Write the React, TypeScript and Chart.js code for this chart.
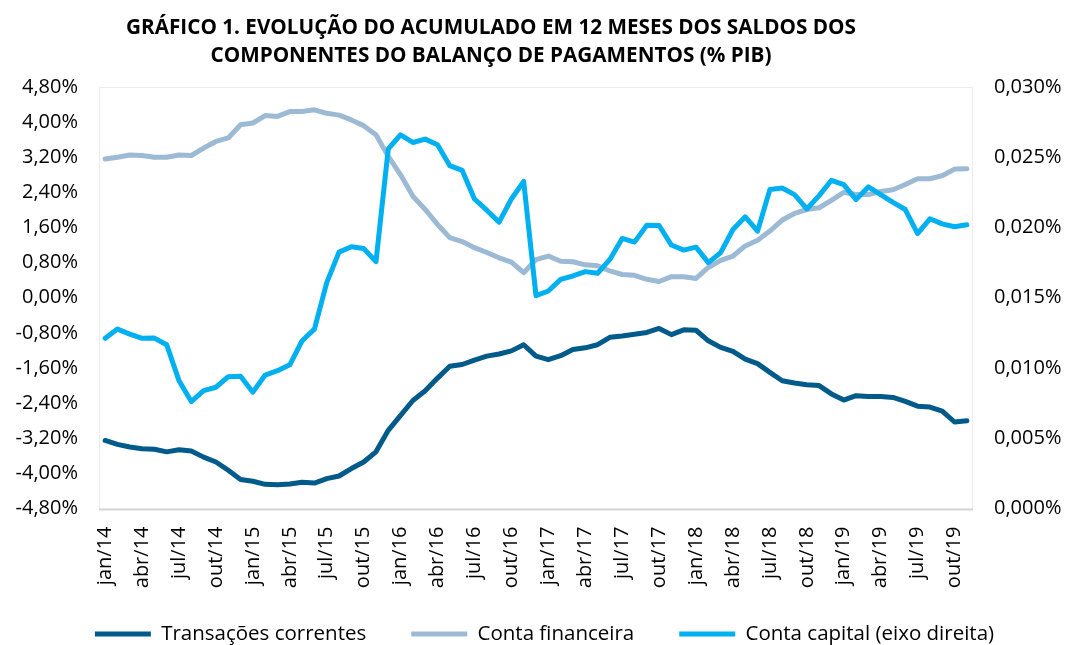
import React, { useEffect, useRef } from "react";
import { Chart, registerables } from "chart.js";

Chart.register(...registerables);

const titleLines = [
  "GRÁFICO 1. EVOLUÇÃO DO ACUMULADO EM 12 MESES DOS SALDOS DOS",
  "COMPONENTES DO BALANÇO DE PAGAMENTOS (% PIB)",
];

const months = [
  "jan/14", "fev/14", "mar/14", "abr/14", "mai/14", "jun/14", "jul/14", "ago/14", "set/14", "out/14", "nov/14", "dez/14",
  "jan/15", "fev/15", "mar/15", "abr/15", "mai/15", "jun/15", "jul/15", "ago/15", "set/15", "out/15", "nov/15", "dez/15",
  "jan/16", "fev/16", "mar/16", "abr/16", "mai/16", "jun/16", "jul/16", "ago/16", "set/16", "out/16", "nov/16", "dez/16",
  "jan/17", "fev/17", "mar/17", "abr/17", "mai/17", "jun/17", "jul/17", "ago/17", "set/17", "out/17", "nov/17", "dez/17",
  "jan/18", "fev/18", "mar/18", "abr/18", "mai/18", "jun/18", "jul/18", "ago/18", "set/18", "out/18", "nov/18", "dez/18",
  "jan/19", "fev/19", "mar/19", "abr/19", "mai/19", "jun/19", "jul/19", "ago/19", "set/19", "out/19", "nov/19",
];

const transacoesCorrentes = [
  -3.25, -3.34, -3.40, -3.44, -3.45, -3.51, -3.46, -3.49, -3.63, -3.74, -3.93, -4.14,
  -4.18, -4.25, -4.26, -4.24, -4.20, -4.22, -4.12, -4.06, -3.89, -3.74, -3.51, -3.02,
  -2.68, -2.34, -2.12, -1.83, -1.56, -1.52, -1.42, -1.33, -1.28, -1.21, -1.07, -1.33,
  -1.41, -1.32, -1.18, -1.14, -1.07, -0.90, -0.87, -0.83, -0.79, -0.70, -0.84, -0.73,
  -0.74, -0.98, -1.13, -1.22, -1.40, -1.50, -1.70, -1.89, -1.94, -1.98, -2.00, -2.19,
  -2.33, -2.23, -2.25, -2.25, -2.27, -2.36, -2.47, -2.49, -2.58, -2.83, -2.80,
];

const contaFinanceira = [
  3.16, 3.20, 3.25, 3.24, 3.20, 3.20, 3.25, 3.24, 3.41, 3.56, 3.64, 3.94,
  3.98, 4.15, 4.13, 4.24, 4.24, 4.28, 4.20, 4.16, 4.05, 3.92, 3.71, 3.22,
  2.80, 2.31, 2.01, 1.67, 1.37, 1.28, 1.14, 1.03, 0.91, 0.81, 0.57, 0.87,
  0.95, 0.83, 0.82, 0.75, 0.73, 0.61, 0.53, 0.51, 0.42, 0.37, 0.48, 0.48,
  0.44, 0.69, 0.85, 0.95, 1.18, 1.31, 1.52, 1.77, 1.92, 2.01, 2.05, 2.22,
  2.40, 2.35, 2.35, 2.42, 2.46, 2.58, 2.71, 2.71, 2.78, 2.93, 2.94,
];

const contaCapital = [
  0.01211, 0.01277, 0.01241, 0.01211, 0.01213, 0.01165, 0.00910, 0.00761, 0.00839, 0.00863, 0.00938, 0.00941,
  0.00828, 0.00950, 0.00981, 0.01023, 0.01194, 0.01277, 0.01608, 0.01825, 0.01863, 0.01851, 0.01757, 0.02560,
  0.02660, 0.02605, 0.02629, 0.02589, 0.02440, 0.02407, 0.02203, 0.02123, 0.02038, 0.02203, 0.02328, 0.01515,
  0.01548, 0.01631, 0.01655, 0.01686, 0.01674, 0.01773, 0.01922, 0.01896, 0.02016, 0.02014, 0.01875, 0.01839,
  0.01860, 0.01750, 0.01821, 0.01986, 0.02076, 0.01974, 0.02270, 0.02281, 0.02234, 0.02132, 0.02227, 0.02336,
  0.02305, 0.02199, 0.02289, 0.02234, 0.02179, 0.02128, 0.01957, 0.02062, 0.02026, 0.02005, 0.02019,
];

const seriesNames = ["Transações correntes", "Conta financeira", "Conta capital (eixo direita)"];
const seriesColors = ["#005b8b", "#9dbad5", "#00b0f0"];

const FONT = "'Open Sans', Lato, sans-serif";
const LEGEND_SIZE = 20.5;
const LEGEND_PAD = 45;

export default function App() {
  const ref = useRef<HTMLCanvasElement | null>(null);

  useEffect(() => {
    const canvas = ref.current;
    if (!canvas) return;

    const framePlugin = {
      id: "frame",
      afterLayout(chart: any) {
        const x = chart.scales.x;
        if (x) x.bottom = chart.height;
        const lg = chart.legend;
        if (lg) {
          const curCenter = lg.top + LEGEND_PAD + LEGEND_SIZE / 2;
          const dy = 634 - curCenter;
          lg.top += dy;
          lg.bottom += dy;
          lg.left += 10;
          lg.right += 10;
        }
      },
      beforeDatasetsDraw(chart: any) {
        const { ctx, chartArea } = chart;
        ctx.save();
        ctx.strokeStyle = "#ececec";
        ctx.lineWidth = 1;
        ctx.strokeRect(chartArea.left + 0.5, chartArea.top + 0.5, chartArea.right - chartArea.left - 1, chartArea.bottom - chartArea.top);
        ctx.strokeStyle = "#d6d6d6";
        ctx.lineWidth = 2;
        ctx.beginPath();
        ctx.moveTo(chartArea.left, chartArea.bottom + 1);
        ctx.lineTo(chartArea.right, chartArea.bottom + 1);
        ctx.stroke();
        ctx.restore();
      },
      afterDraw(chart: any) {
        const { ctx } = chart;
        ctx.save();
        ctx.fillStyle = "#000";
        ctx.font = `bold 20.7px ${FONT}`;
        ctx.textAlign = "center";
        ctx.textBaseline = "middle";
        ctx.fillText(titleLines[0], 491, 28);
        ctx.fillText(titleLines[1], 491, 56);
        ctx.restore();
      },
    };

    const makeDs = (i: number, data: number[], axis: string, order: number) => ({
      label: seriesNames[i],
      data,
      yAxisID: axis,
      borderColor: seriesColors[i],
      backgroundColor: seriesColors[i],
      borderWidth: 5,
      pointRadius: 0,
      pointHoverRadius: 0,
      tension: 0,
      borderJoinStyle: "round" as const,
      borderCapStyle: "round" as const,
      order,
    });

    const chart = new Chart(canvas, {
      type: "line",
      data: {
        labels: months,
        datasets: [
          makeDs(0, transacoesCorrentes, "y", 2),
          makeDs(1, contaFinanceira, "y", 1),
          makeDs(2, contaCapital, "y1", 0),
        ],
      },
      options: {
        animation: false,
        responsive: false,
        layout: { padding: { top: 87, bottom: 0, left: 0, right: 0 } },
        plugins: {
          title: { display: false },
          tooltip: { enabled: false },
          legend: {
            position: "bottom",
            labels: {
              sort: (a: any, b: any) => a.datasetIndex - b.datasetIndex,
              usePointStyle: true,
              pointStyle: "line",
              pointStyleWidth: 56,
              padding: LEGEND_PAD,
              color: "#000",
              font: { family: FONT, size: LEGEND_SIZE },
            },
          },
        },
        scales: {
          x: {
            offset: true,
            grid: { display: false, drawTicks: false },
            border: { display: false },
            afterFit: (s: any) => { s.height = 61; },
            ticks: {
              autoSkip: false,
              maxRotation: 90,
              minRotation: 90,
              padding: 18,
              color: "#000",
              font: { family: FONT, size: 20 },
              callback: function (this: any, val: any, idx: number) {
                return idx % 3 === 0 ? months[idx] : "";
              },
            },
          },
          y: {
            position: "left",
            min: -4.8,
            max: 4.8,
            grid: { display: false, drawTicks: false },
            border: { display: false },
            afterFit: (s: any) => { s.width = 99; },
            ticks: {
              stepSize: 0.8,
              padding: 21,
              color: "#000",
              font: { family: FONT, size: 20 },
              callback: (v: any) => Number(v).toFixed(2).replace(".", ",") + "%",
            },
          },
          y1: {
            position: "right",
            min: 0,
            max: 0.03,
            grid: { display: false, drawTicks: false },
            border: { display: false },
            afterFit: (s: any) => { s.width = 96; },
            ticks: {
              stepSize: 0.005,
              padding: 21,
              color: "#000",
              font: { family: FONT, size: 20 },
              callback: (v: any) => Number(v).toFixed(3).replace(".", ",") + "%",
            },
          },
        },
      },
      plugins: [framePlugin],
    });

    return () => chart.destroy();
  }, []);

  return (
    <div style={{ position: "absolute", left: 0, top: 0, width: 1069, height: 645, background: "#fff" }}>
      <canvas ref={ref} width={1069} height={645} style={{ display: "block" }} />
    </div>
  );
}
